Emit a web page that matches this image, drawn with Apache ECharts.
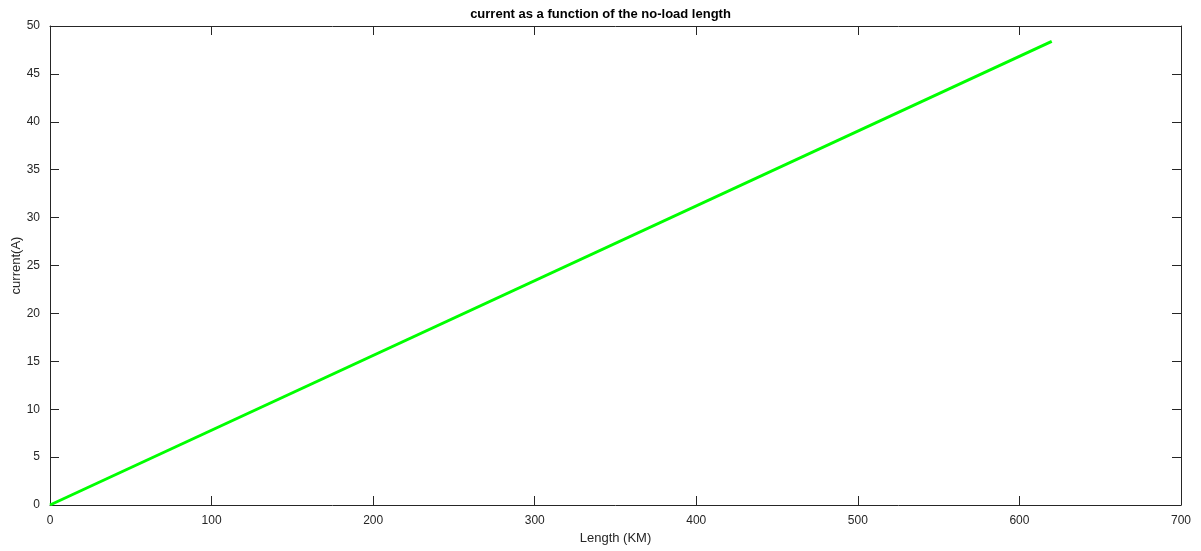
<!DOCTYPE html>
<html><head><meta charset="utf-8">
<script src="https://cdn.jsdelivr.net/npm/echarts@6/dist/echarts.min.js"></script>
<style>html,body{margin:0;padding:0;background:#fff}#c{width:1201px;height:551px}</style>
</head><body><div id="c"></div>
<script>
var lengthKm = [0, 620];
var currentA = [0, 48.4];
var titleText = 'current as a function of the no-load length';
var xName = 'Length (KM)';
var yName = 'current(A)';

var pts = lengthKm.map(function(x, i){ return [x, currentA[i]]; });
var chart = echarts.init(document.getElementById('c'));
var axisLine = {show:true, onZero:false, lineStyle:{color:'#262626', width:1}};
var tick = {show:true, inside:true, length:9, lineStyle:{color:'#262626'}};
var lab = {color:'#262626', fontSize:12, fontFamily:'Liberation Sans, Arial'};
chart.setOption({
  animation:false,
  title:{text:titleText, left:'center', top:3, textStyle:{fontSize:13, fontWeight:'bold', color:'#000', fontFamily:'Liberation Sans, Arial'}},
  grid:{left:50, right:20, top:26, bottom:46, containLabel:false, outerBoundsMode:'none'},
  xAxis:[
    {type:'value', min:0, max:700, interval:100, position:'bottom', axisLine:axisLine, axisTick:tick, axisLabel:Object.assign({margin:10}, lab), splitLine:{show:false},
     name:xName, nameLocation:'middle', nameGap:27, nameTextStyle:{color:'#262626', fontSize:13, fontFamily:'Liberation Sans, Arial'}},
    {type:'value', min:0, max:700, interval:100, position:'top', axisLine:axisLine, axisTick:tick, axisLabel:{show:false}, splitLine:{show:false}}
  ],
  yAxis:[
    {type:'value', min:0, max:50, interval:5, position:'left', axisLine:axisLine, axisTick:tick, axisLabel:Object.assign({margin:10}, lab), splitLine:{show:false},
     name:yName, nameLocation:'middle', nameGap:27, nameMoveOverlap:false, nameTextStyle:{color:'#262626', fontSize:13, fontFamily:'Liberation Sans, Arial'}},
    {type:'value', min:0, max:50, interval:5, position:'right', axisLine:axisLine, axisTick:tick, axisLabel:{show:false}, splitLine:{show:false}}
  ],
  series:[{type:'line', data:pts, showSymbol:false, lineStyle:{color:'#00ff00', width:3}, xAxisIndex:0, yAxisIndex:0}]
});
</script></body></html>
